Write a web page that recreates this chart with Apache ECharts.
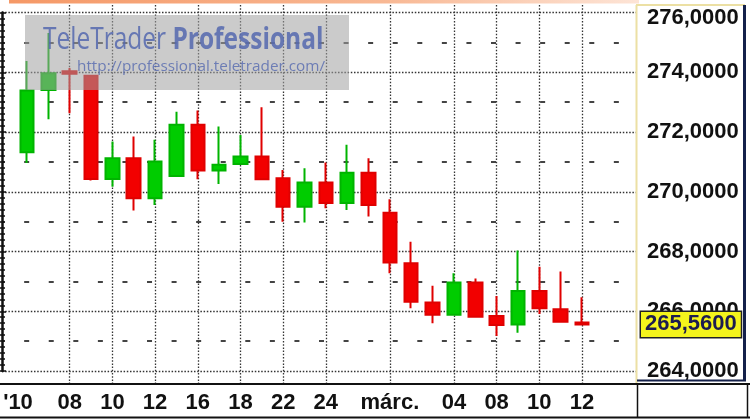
<!DOCTYPE html>
<html>
<head>
<meta charset="utf-8">
<script src="https://cdn.jsdelivr.net/npm/echarts@6/dist/echarts.min.js"></script>
<style>
  html, body { margin: 0; padding: 0; background: #fff; }
  #chart { width: 750px; height: 420px; }
</style>
</head>
<body>
<div id="chart"></div>
<script>
// napi gyertyák: dátum, nyitó, záró, legalacsonyabb, legmagasabb
var dates = ['2010-02-04','2010-02-05','2010-02-08','2010-02-09','2010-02-10','2010-02-11','2010-02-12',
	'2010-02-15','2010-02-16','2010-02-17','2010-02-18','2010-02-19','2010-02-22','2010-02-23','2010-02-24',
	'2010-02-25','2010-02-26','2010-03-01','2010-03-02','2010-03-03','2010-03-04','2010-03-05','2010-03-08',
	'2010-03-09','2010-03-10','2010-03-11','2010-03-12'];
var open  = [271.32,273.41,274.03,273.88,270.43,271.12,269.78,270.53,272.24,270.71,270.93,271.18,270.45,269.50,
	270.31,269.62,270.64,269.30,267.61,266.29,265.88,266.96,265.84,265.56,266.68,266.07,265.62];
var close = [273.39,273.97,273.95,270.43,271.12,269.78,271.01,272.24,270.71,270.90,271.18,270.42,269.50,270.31,
	269.62,270.64,269.56,267.63,266.32,265.88,266.96,265.82,265.54,266.68,266.10,265.65,265.56];
var low   = [270.96,272.43,272.63,270.38,270.17,269.37,269.56,270.51,270.42,270.26,270.90,270.40,269.00,268.97,
	269.45,269.39,269.17,267.27,266.10,265.60,265.87,265.80,265.17,265.28,265.91,265.62,265.53];
var high  = [274.38,275.31,274.14,273.90,271.68,271.85,271.74,272.68,272.72,272.18,271.90,272.83,270.73,270.79,
	270.98,271.57,271.12,269.75,268.33,266.85,267.27,267.10,266.51,268.03,267.49,267.33,266.47];

var tickDates  = ['2010-02-04','2010-02-08','2010-02-10','2010-02-12','2010-02-16','2010-02-18','2010-02-22',
	'2010-02-24','2010-03-01','2010-03-04','2010-03-08','2010-03-10','2010-03-12'];
var tickLabels = ["'10",'08','10','12','16','18','22','24','márc.','04','08','10','12'];

var yMin = 264, yMax = 276, yStep = 2;

var myChart = echarts.init(document.getElementById('chart'));

var kdata = [];
for (var i = 0; i < dates.length; i++) {
	kdata.push([open[i], close[i], low[i], high[i]]);
}

function fmt(v) {
	return v.toFixed(4).replace('.', ',');
}
function tickPos(idx) {
	return tickDates.indexOf(dates[idx]);
}

// a gyertyás rács pixel-léptéke megegyezik a háttérrácséval
var pxPerUnit = 358.5 / (yMax - yMin);
var cMax = yMax + (12.5 - 5) / pxPerUnit;
var cMin = yMin - (383 - 371) / pxPerUnit;

option = {
	animation: false,
	backgroundColor: '#fff',
	textStyle: {fontFamily: 'Liberation Sans'},
	grid: [
		{left: 2, right: 113, top: 12.5, height: 358.5},
		{left: 27, right: 168, top: 5, bottom: 37}
	],
	xAxis: [
		{gridIndex: 0, type: 'value', min: 0, max: 1, show: false},
		{
			gridIndex: 1,
			type: 'category',
			data: dates,
			boundaryGap: false,
			axisLine: {show: false},
			axisTick: {show: false},
			axisLabel: {
				interval: function (idx) { return tickPos(idx) >= 0; },
				margin: 9,
				fontFamily: 'Liberation Sans', fontSize: 22, fontWeight: 'bold', color: '#111',
				formatter: function (val, idx) {
					var k = tickDates.indexOf(val);
					if (k < 0) return '';
					if (k === 0) return '{y|' + tickLabels[k] + '}';
					return tickLabels[k];
				},
				rich: {
					y: {fontFamily: 'Liberation Sans', fontSize: 22, fontWeight: 'bold', color: '#111', padding: [0, 18, 0, 0]}
				}
			},
			splitLine: {
				show: true,
				interval: function (idx) { return tickPos(idx) > 0; },
				lineStyle: {color: '#333', width: 1.3, type: [1.5, 1.7]}
			}
		}
	],
	yAxis: [
		{
			// jobb oldali árskála
			gridIndex: 0, type: 'value', position: 'right',
			min: yMin, max: yMax, interval: yStep,
			axisLine: {show: false},
			axisTick: {show: true, inside: true, length: 5, lineStyle: {color: '#111', width: 1.5}},
			minorTick: {show: true, splitNumber: 10, length: 3, lineStyle: {color: '#111', width: 1.5}},
			axisLabel: {
				margin: 10,
				fontFamily: 'Liberation Sans', fontSize: 22, fontWeight: 'bold', color: '#111',
				formatter: function (v) {
					return v === yMax ? '{t|' + fmt(v) + '}' : fmt(v);
				},
				rich: {
					t: {fontFamily: 'Liberation Sans', fontSize: 22, fontWeight: 'bold', color: '#111', padding: [10, 0, 0, 0]}
				}
			},
			splitLine: {show: true, lineStyle: {color: '#333', width: 1.3, type: [1.5, 1.7]}}
		},
		{
			// bal szél, sűrű osztásokkal
			gridIndex: 0, type: 'value', position: 'left',
			min: yMin, max: yMax, interval: yStep,
			axisLine: {show: true, lineStyle: {color: '#111', width: 2.5}},
			axisTick: {show: true, inside: true, length: 4, lineStyle: {color: '#111', width: 1.5}},
			minorTick: {show: true, splitNumber: 10, length: 3, lineStyle: {color: '#111', width: 1.5}},
			axisLabel: {show: false},
			splitLine: {show: false}
		},
		{
			// páratlan szinteken szaggatott vonal
			gridIndex: 0, type: 'value', position: 'left',
			min: yMin, max: yMax, interval: yStep,
			axisLine: {show: false},
			axisTick: {show: false},
			axisLabel: {show: false},
			splitLine: {show: false},
			minorTick: {show: false, splitNumber: 2},
			minorSplitLine: {show: true, lineStyle: {color: '#444', width: 1.8, type: [5, 19.57], dashOffset: 2.4}}
		},
		{gridIndex: 1, type: 'value', min: cMin, max: cMax, show: false, splitLine: {show: false}}
	],
	series: [
		{
			name: 'OHLC',
			type: 'candlestick',
			xAxisIndex: 1,
			yAxisIndex: 3,
			data: kdata,
			barWidth: 14,
			clip: false,
			itemStyle: {
				color: '#00cc00',
				color0: '#f20000',
				borderColor: '#00b400',
				borderColor0: '#e00000',
				borderWidth: 2
			},
			markLine: {
				silent: true,
				symbol: ['none', 'none'],
				lineStyle: {color: 'rgba(0,0,0,0)', width: 0.1, type: 'solid'},
				label: {
					show: true,
					position: 'end',
					distance: 59,
					formatter: function (p) { return fmt(p.value); },
					fontFamily: 'Liberation Sans', fontSize: 22, fontWeight: 'bold', color: '#1c1c50',
					backgroundColor: '#f4f41c',
					borderColor: '#222',
					borderWidth: 1.5,
					padding: [2, 4, 1, 4]
				},
				data: [{yAxis: close[close.length - 1]}]
			}
		}
	],
	graphic: [
		// felső narancs sáv
		{type: 'rect', z: 50, shape: {x: 9, y: 0, width: 630, height: 3.5},
			style: {fill: new echarts.graphic.LinearGradient(0, 0, 1, 0, [
				{offset: 0, color: '#f59866'}, {offset: 0.6, color: '#f8b894'}, {offset: 1, color: '#fde4d6'}])}},
		// jobb oldali panel kerete
		{type: 'line', z: 50, shape: {x1: 636.5, y1: 5, x2: 636.5, y2: 383}, style: {stroke: '#ece0a4', lineWidth: 2}},
		{type: 'line', z: 50, shape: {x1: 636, y1: 5, x2: 745, y2: 5}, style: {stroke: '#ece0a4', lineWidth: 2}},
		{type: 'line', z: 50, shape: {x1: 744.5, y1: 5, x2: 744.5, y2: 381}, style: {stroke: '#14204a', lineWidth: 3}},
		{type: 'line', z: 50, shape: {x1: 637, y1: 380.5, x2: 746, y2: 380.5}, style: {stroke: '#14204a', lineWidth: 2}},
		// alsó sáv
		{type: 'line', z: 50, shape: {x1: 0, y1: 384, x2: 750, y2: 384}, style: {stroke: '#111', lineWidth: 2}},
		{type: 'line', z: 50, shape: {x1: 0, y1: 417.5, x2: 750, y2: 417.5}, style: {stroke: '#111', lineWidth: 2}},
		{type: 'line', z: 50, shape: {x1: 637.5, y1: 384, x2: 637.5, y2: 418}, style: {stroke: '#111', lineWidth: 1.5}},
		{type: 'line', z: 50, shape: {x1: 747.5, y1: 384, x2: 747.5, y2: 418}, style: {stroke: '#111', lineWidth: 1.5}},
		// vízjel
		{type: 'rect', z: 60, shape: {x: 25, y: 15, width: 324, height: 75}, style: {fill: 'rgba(160,160,160,0.55)'}},
		{type: 'text', z: 61, x: 43, y: 25, scaleY: 1.25,
			style: {
				text: '{a|TeleTrader }{b|Professional}',
				rich: {
					a: {fontFamily: 'Open Sans', fontSize: 24.5, fill: 'rgba(85,105,175,0.85)'},
					b: {fontFamily: 'Open Sans', fontSize: 24.5, fontWeight: 'bold', fill: 'rgba(85,105,175,0.85)'}
				}
			}},
		{type: 'text', z: 61, x: 77, y: 59,
			style: {text: 'http://professional.teletrader.com/', fontFamily: 'Open Sans', fontSize: 15.3,
				fill: 'rgba(85,105,175,0.8)'}}
	]
};

if (option && typeof option === "object") {
	myChart.setOption(option, true);
}
</script>
</body>
</html>
